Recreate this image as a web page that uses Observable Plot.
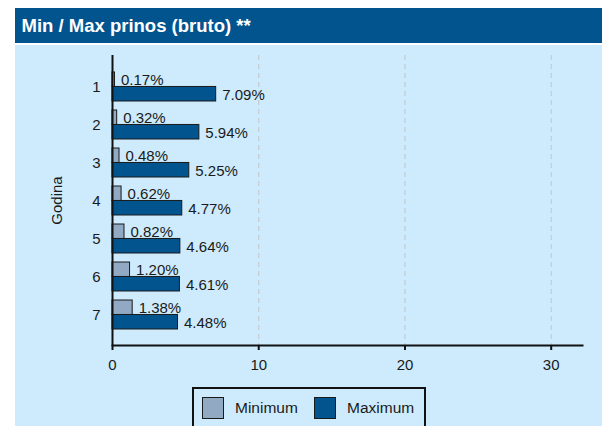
<!DOCTYPE html>
<html>
<head>
<meta charset="utf-8">
<script src="https://cdn.jsdelivr.net/npm/d3@7"></script>
<script src="https://cdn.jsdelivr.net/npm/@observablehq/plot@0.6"></script>
<style>
  html, body { margin: 0; padding: 0; background: #ffffff; width: 609px; height: 426px; overflow: hidden; font-family: "Liberation Sans", Arial, sans-serif; }
  #title { position: absolute; left: 15px; top: 8px; width: 587px; height: 35px; background: #02548f; color: #ffffff; font-weight: bold; font-size: 18.5px; display: flex; align-items: center; box-sizing: border-box; padding-left: 6.5px; padding-top: 1px; }
  #panel { position: absolute; left: 15px; top: 45px; width: 587px; height: 381px; background: #cdebfc; }
  #chart { position: absolute; left: 0; top: 0; }
  #chart svg { display: block; }
  #legend { position: absolute; left: 177px; top: 342px; width: 234px; height: 50px; box-sizing: border-box; border: 2px solid #111; background: #cdebfc; }
  .item { position: absolute; top: 8px; display: flex; align-items: center; font-size: 15.5px; color: #1a1a1a; }
  .sw { width: 20px; height: 20px; border: 1px solid #1a1a1a; margin-right: 11px; }
</style>
</head>
<body>
<div id="title">Min / Max prinos (bruto) **</div>
<div id="panel">
  <div id="chart"></div>
  <div id="legend"></div>
</div>
<script>
const hours = ["1", "2", "3", "4", "5", "6", "7"];
const minValues = [0.17, 0.32, 0.48, 0.62, 0.82, 1.20, 1.38];
const maxValues = [7.09, 5.94, 5.25, 4.77, 4.64, 4.61, 4.48];
const seriesNames = ["Minimum", "Maximum"];
const seriesColors = ["#92a9c3", "#02548f"];
const xTicks = [0, 10, 20, 30];
const yLabel = "Godina";

const rows = hours.map((h, i) => ({hour: h, min: minValues[i], max: maxValues[i]}));

const W = 587, H = 340, mL = 97, mR = 20, mT = 10, mB = 40;
const pIn = 0.25, pOut = 0.385;
const step = (H - mT - mB) / (hours.length - pIn + 2 * pOut);
const bw = step * (1 - pIn);
const half = bw / 2;
const fmt = v => v.toFixed(2) + "%";

const chart = Plot.plot({
  width: W, height: H,
  marginLeft: mL, marginRight: mR, marginTop: mT, marginBottom: mB,
  style: {background: "transparent", fontFamily: "'Liberation Sans', Arial, sans-serif", fontSize: "15px", color: "#1a1a1a"},
  x: {domain: [0, 32.14]},
  y: {domain: hours, paddingInner: pIn, paddingOuter: pOut},
  marks: [
    Plot.ruleX(xTicks.filter(t => t > 0), {stroke: "#c4c4c4", strokeDasharray: "5,4", strokeWidth: 1}),
    Plot.barX(rows, {x: "min", y: "hour", fill: seriesColors[0], stroke: "#1a1a1a", strokeWidth: 1, insetBottom: half}),
    Plot.barX(rows, {x: "max", y: "hour", fill: seriesColors[1], stroke: "#1a1a1a", strokeWidth: 1, insetTop: half}),
    Plot.text(rows, {x: "min", y: "hour", text: d => fmt(d.min), textAnchor: "start", dx: 6, dy: -half / 2 + 0.5, fontSize: 15, fill: "#1a1a1a"}),
    Plot.text(rows, {x: "max", y: "hour", text: d => fmt(d.max), textAnchor: "start", dx: 6, dy: half / 2 + 1, fontSize: 15, fill: "#1a1a1a"}),
    Plot.ruleX([0], {stroke: "#111", strokeWidth: 2}),
    Plot.frame({anchor: "bottom", stroke: "#111", strokeWidth: 2}),
    Plot.axisX({ticks: xTicks, tickSize: 5, tickPadding: 9, fontSize: 15, strokeWidth: 2, stroke: "#111", label: null, tickFormat: d => String(d)}),
    Plot.axisY({tickSize: 0, tickPadding: 12, fontSize: 15, label: null}),
    Plot.text([yLabel], {frameAnchor: "left", text: d => d, textAnchor: "middle", dx: -55, rotate: -90, fontSize: 15, fill: "#1a1a1a"})
  ]
});
document.getElementById("chart").appendChild(chart);

const legend = document.getElementById("legend");
const lefts = [8, 120];
seriesNames.forEach((name, i) => {
  const item = document.createElement("div");
  item.className = "item";
  item.style.left = lefts[i] + "px";
  const sw = document.createElement("div");
  sw.className = "sw";
  sw.style.background = seriesColors[i];
  const label = document.createElement("span");
  label.textContent = name;
  item.appendChild(sw);
  item.appendChild(label);
  legend.appendChild(item);
});
</script>
</body>
</html>
